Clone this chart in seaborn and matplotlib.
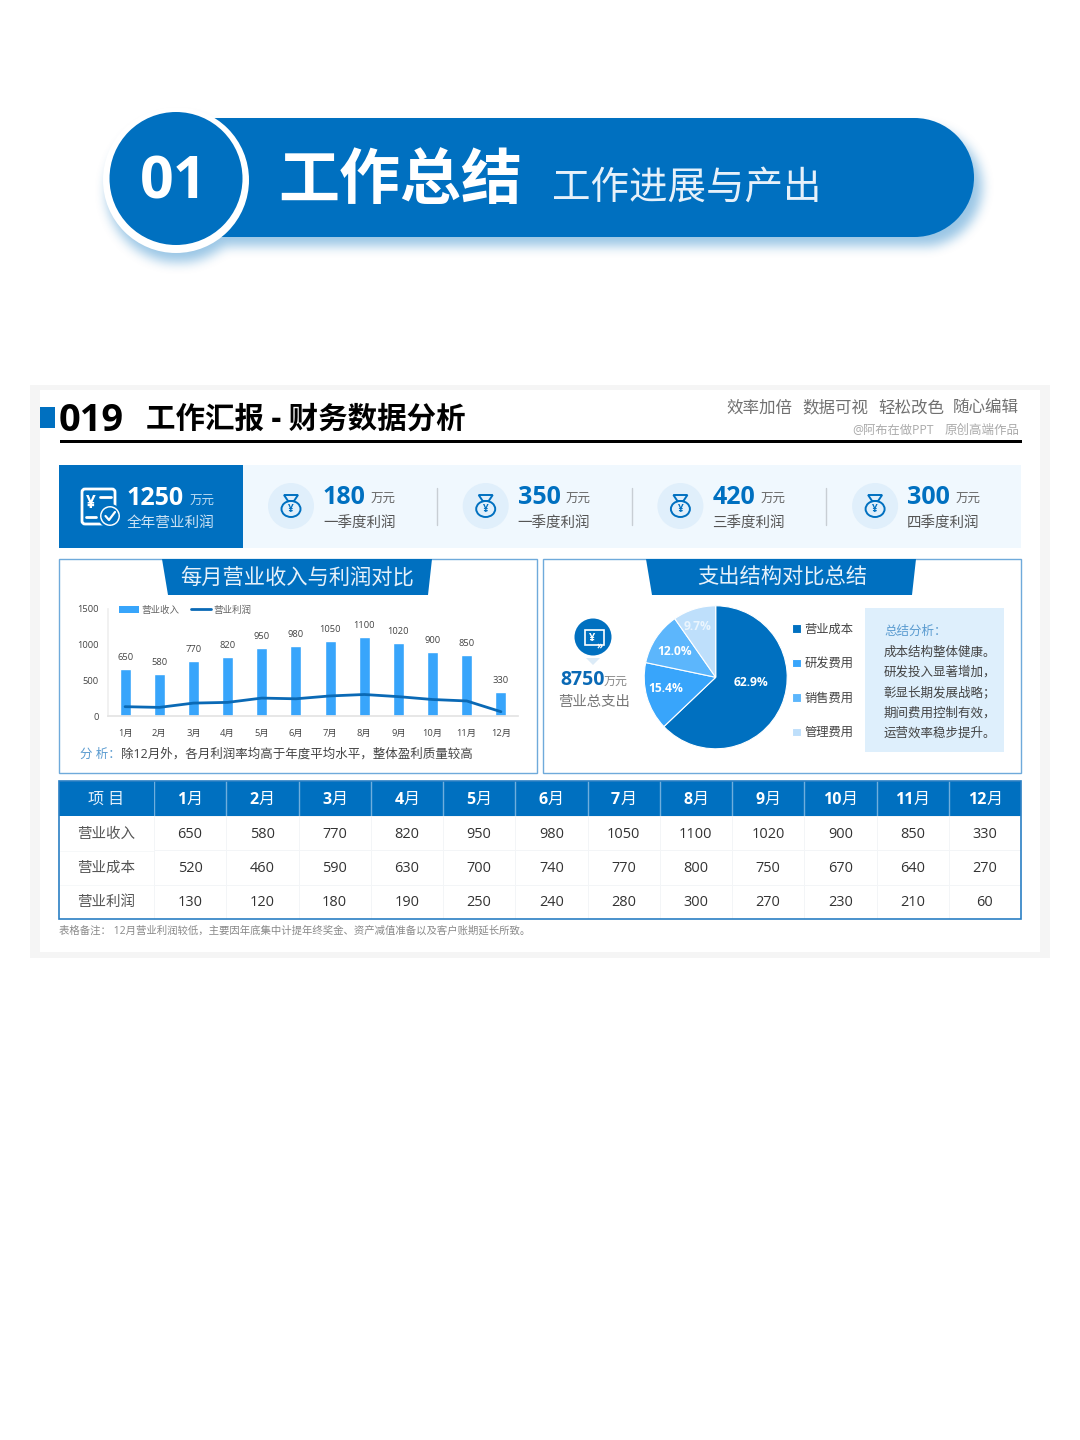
import numpy as np
import pandas as pd
import seaborn as sns
import matplotlib.pyplot as plt
from matplotlib.colors import ListedColormap
from matplotlib.lines import Line2D
from matplotlib.patches import Circle, Ellipse, FancyBboxPatch, Polygon, Rectangle

months = ['1月', '2月', '3月', '4月', '5月', '6月', '7月', '8月', '9月', '10月', '11月', '12月']
revenue = [650, 580, 770, 820, 950, 980, 1050, 1100, 1020, 900, 850, 330]
cost = [520, 460, 590, 630, 700, 740, 770, 800, 750, 670, 640, 270]
profit = [130, 120, 180, 190, 250, 240, 280, 300, 270, 230, 210, 60]
row_names = ['营业收入', '营业成本', '营业利润']

pie_names = ['营业成本', '研发费用', '销售费用', '管理费用']
pie_shares = [62.9, 15.4, 12.0, 9.7]

kpi_values = ['180', '350', '420', '300']
kpi_names = ['一季度利润', '一季度利润', '三季度利润', '四季度利润']
tags = ['效率加倍', '数据可视', '轻松改色', '随心编辑']
summary_lines = ['成本结构整体健康。', '研发投入显著增加，', '彰显长期发展战略；', '期间费用控制有效，', '运营效率稳步提升。']

BLUE = '#0070C0'
BAR = '#38A5FB'
PALE = '#F0F8FE'
FRAME = '#6FAADB'
PX = 0.72

sns.set_theme(style='white')
plt.rcParams['font.family'] = ['Open Sans', 'Noto Sans CJK SC', 'DejaVu Sans']

fig = plt.figure(figsize=(10.8, 14.4), dpi=100, facecolor='white')
bg = fig.add_axes([0, 0, 1, 1])
bg.set_xlim(0, 1080)
bg.set_ylim(1440, 0)
bg.axis('off')


def inset(x0, y0, x1, y1):
    # pixel box of the reference -> figure axes
    return fig.add_axes([x0 / 1080, 1 - y1 / 1440, (x1 - x0) / 1080, (y1 - y0) / 1440])


def T(x, y, s, size, color='#444444', weight='normal', ha='left', va='center', z=5):
    # va center sits a little high for these fonts
    bg.text(x, y + size * 0.1, s, fontsize=size * PX, color=color, fontweight=weight, ha=ha, va=va, zorder=z)


def box_blur(a, n):
    k = np.ones(n) / n
    for i in range(3):
        a = np.apply_along_axis(lambda v: np.convolve(v, k, mode='same'), 0, a)
        a = np.apply_along_axis(lambda v: np.convolve(v, k, mode='same'), 1, a)
    return a


# banner shadow
yy, xx = np.mgrid[0:320, 0:1080]
mask = ((xx > 215) & (xx < 922) & (yy > 127) & (yy < 246)).astype(float)
mask[(xx - 922) ** 2 + (yy - 186.5) ** 2 < 59.5 ** 2] = 1
mask[(xx - 178) ** 2 + (yy - 190) ** 2 < 72 ** 2] = 1
mask = box_blur(mask, 11)
rgba = np.zeros((320, 1080, 4))
rgba[..., 0], rgba[..., 1], rgba[..., 2] = 0.0, 0.44, 0.75
rgba[..., 3] = mask * 0.4
bg.imshow(rgba, extent=(0, 1080, 320, 0), aspect='auto', zorder=1)
bg.set_xlim(0, 1080)
bg.set_ylim(1440, 0)

# banner
bg.add_patch(Rectangle((176, 118), 739, 119, fc=BLUE, ec='none', zorder=2))
bg.add_patch(Circle((914.5, 177.5), 59.5, fc=BLUE, ec='none', zorder=2))
bg.add_patch(Circle((176, 180), 73, fc='white', ec='none', zorder=3))
bg.add_patch(Circle((176, 178.5), 66.5, fc=BLUE, ec='none', zorder=3))
T(174, 177, '01', 59, 'white', 'bold', ha='center')
T(278, 177, '工作总结', 61, 'white', 'black')
T(552, 185, '工作进展与产出', 38.5, '#E6F1FA', 'light')

# card
bg.add_patch(Rectangle((30, 385), 1020, 573, fc='#F5F5F5', ec='none', zorder=1))
bg.add_patch(Rectangle((40, 390), 1000, 562, fc='white', ec='none', zorder=1))
bg.add_patch(Rectangle((40, 407), 15, 21, fc=BLUE, ec='none', zorder=2))
T(59, 417, '019', 38, 'black', 'bold')
T(146, 417, '工作汇报 - 财务数据分析', 29.5, 'black', 'black')
for x, s in zip([726, 802, 878, 953], tags):
    T(x, 407, s, 16.5, '#707070')
T(852, 429, '@阿布在做PPT', 12.3, '#AAAAAA')
T(945, 429, '原创高端作品', 12.5, '#AAAAAA')
bg.add_patch(Rectangle((60, 440), 962, 3, fc='black', ec='none', zorder=2))

# kpi band
bg.add_patch(Rectangle((59, 465), 962, 83, fc=PALE, ec='none', zorder=2))
bg.add_patch(Rectangle((59, 465), 184, 83, fc=BLUE, ec='none', zorder=2))
bg.add_patch(FancyBboxPatch((82, 489), 33, 35, boxstyle='round,pad=0,rounding_size=3', fc='none', ec='white', lw=2, zorder=3))
T(91, 501, '¥', 17, 'white', 'bold', ha='center')
bg.plot([100, 111], [497, 497], color='white', lw=2, zorder=3)
bg.plot([86, 96], [517, 517], color='white', lw=2, zorder=3)
bg.add_patch(Circle((110, 516), 11, fc='white', ec=BLUE, lw=1.5, zorder=3))
bg.add_patch(Circle((110, 516), 8.5, fc=BLUE, ec='none', zorder=3))
bg.plot([105.5, 109, 115], [516, 520, 512], color='white', lw=1.6, zorder=4)
T(127, 496, '1250', 25, 'white', 'bold')
T(190, 500, '万元', 12.5, '#BFDCF2')
T(127, 522, '全年营业利润', 14.6, '#CFE4F5')

for i, (v, s) in enumerate(zip(kpi_values, kpi_names)):
    cx = 291 + 194.7 * i
    bg.add_patch(Circle((cx, 506), 23, fc='#E0EFFB', ec='none', zorder=3))
    bg.add_patch(Ellipse((cx, 509), 19, 16, fc='none', ec=BLUE, lw=1.4, zorder=4))
    bg.add_patch(Polygon([(cx - 7, 495), (cx + 7, 495), (cx + 3, 501), (cx - 3, 501)], fc='none', ec=BLUE, lw=1.4, zorder=4))
    T(cx, 509, '¥', 10, BLUE, 'bold', ha='center', z=5)
    T(cx + 32, 495, v, 25, BLUE, 'bold')
    T(cx + 80, 498, '万元', 12.5, '#666666')
    T(cx + 32, 522, s, 14.5, '#555555')
    if i < 3:
        bg.plot([cx + 146, cx + 146], [488, 525], color='#C8CED4', lw=1, zorder=3)

# panels
for x0, x1 in [(59, 537), (543, 1021)]:
    bg.add_patch(Rectangle((x0, 559), x1 - x0, 214, fc='white', ec=FRAME, lw=1.0, zorder=2))
    bg.add_patch(Polygon([(x0 + 103, 559), (x0 + 104 + 269, 559), (x0 + 104 + 265, 595), (x0 + 109, 595)], fc=BLUE, ec='none', zorder=3))
T(297, 576, '每月营业收入与利润对比', 21.3, '#E6F1FA', 'light', ha='center')
T(782, 576, '支出结构对比总结', 21.3, '#E6F1FA', 'light', ha='center')

# bar + line chart
df = pd.DataFrame({'month': months, 'revenue': revenue, 'profit': profit})
ax = inset(108, 608.5, 518, 716)
ax.patch.set_alpha(0)
sns.barplot(data=df, x='month', y='revenue', color=BAR, saturation=1, width=0.32, ax=ax)
sns.lineplot(x=np.arange(len(profit)), y=profit, color='#0A69B5', lw=2, ax=ax)
ax.bar_label(ax.containers[0], fontsize=9.4 * PX, color='#444444', padding=5)
ax.set_xlim(-0.5, 11.5)
ax.set_ylim(0, 1500)
ax.set_yticks([0, 500, 1000, 1500])
ax.set_xlabel('')
ax.set_ylabel('')
ax.tick_params(axis='y', labelsize=9.4 * PX, labelcolor='#444444', length=0, pad=6.5)
ax.tick_params(axis='x', labelsize=9.4 * PX, labelcolor='#444444', length=0, pad=9)
sns.despine(ax=ax, top=True, right=True)
ax.spines['left'].set_color('#F0F0F0')
ax.spines['bottom'].set_color('#E4E4E4')
ax.legend(handles=[Rectangle((0, 0), 1, 1, fc=BAR, ec='none'), Line2D([0], [0], color='#0A69B5', lw=2)],
          labels=['营业收入', '营业利润'], loc='upper left', bbox_to_anchor=(0.027, 1.03), ncols=2, frameon=False,
          fontsize=9.5 * PX, labelcolor='#666666', handlelength=2.1, handleheight=0.7, handletextpad=0.25,
          columnspacing=1.2, borderpad=0, borderaxespad=0)
T(80, 753, '分 析：', 12.5, '#5A9BD0')
T(121, 753, '除12月外，各月利润率均高于年度平均水平，整体盈利质量较高', 12.5, '#444444')

# pie
pie_colors = [BLUE, '#38A5FB', '#5CB6FC', '#BEDFFB']
pie_label_xy = [(0.50, -0.07), (-0.70, -0.16), (-0.57, 0.36), (-0.25, 0.71)]
ax2 = inset(715.7 - 75, 677.3 - 75, 715.7 + 75, 677.3 + 75)
ax2.patch.set_alpha(0)
wedges, _, autotexts = ax2.pie(pie_shares, colors=pie_colors, startangle=90, counterclock=False, radius=1,
                               autopct='%.1f%%', wedgeprops=dict(edgecolor='white', linewidth=0.8),
                               textprops=dict(color='white', fontsize=12 * PX, fontweight='bold'))
for t, xy in zip(autotexts, pie_label_xy):
    t.set_position(xy)
ax2.set_xlim(-75 / 71.5, 75 / 71.5)
ax2.set_ylim(-75 / 71.5, 75 / 71.5)
autotexts[3].set_color('#EAF5FE')
ax2.legend(wedges, pie_names, loc='upper left', bbox_to_anchor=(1.01, 0.864), frameon=False, fontsize=12.3 * PX,
           labelcolor='#444444', handlelength=0.7, handleheight=0.7, handletextpad=0.3, labelspacing=1.75,
           borderpad=0, borderaxespad=0)

bg.add_patch(Polygon([(586, 658), (600, 658), (593, 665)], fc='#DCEBF7', ec='none', zorder=3))
bg.add_patch(Circle((593, 637), 18.5, fc=BLUE, ec='none', zorder=3))
bg.add_patch(Rectangle((585, 630), 19, 15, fc='none', ec='white', lw=1.2, zorder=4))
T(592, 637, '¥', 11, 'white', 'bold', ha='center')
T(600, 645, '»', 10, 'white', 'bold', ha='center')
T(560, 678, '8750', 19.5, '#0A69B5', 'bold')
T(604, 680, '万元', 12, '#888888')
T(558, 701, '营业总支出', 14.4, '#777777')

bg.add_patch(Rectangle((865, 608), 139, 144, fc='#DEEFFC', ec='none', zorder=3))
T(884, 630, '总结分析：', 12.5, '#5A9BD0')
for i, s in enumerate(summary_lines):
    T(884, 651 + i * 20.3, s, 12.5, '#444444')

# table
bg.add_patch(Rectangle((59, 781), 95, 35, fc=BLUE, ec='none', zorder=2))
bg.add_patch(Rectangle((59, 816), 95, 103, fc='white', ec='none', zorder=2))
T(106, 798, '项 目', 16, '#E4F0FA', ha='center')
head = inset(154, 781, 1021, 816)
sns.heatmap(np.zeros((1, 12)), cmap=ListedColormap([BLUE]), cbar=False, linewidths=0,
            xticklabels=False, yticklabels=False, ax=head)
for i, m in enumerate(months):
    off = (len(m[:-1]) * 9.2 - 16) / 2 / 72.25
    head.text(i + 0.5 + off, 0.53, m[:-1], color='white', fontsize=16 * PX, fontweight='bold', ha='right', va='center')
    head.text(i + 0.5 + off, 0.53, m[-1], color='white', fontsize=16 * PX, ha='left', va='center')
for i in range(13):
    head.axvline(i, color='#6FAEDD', lw=1.0)

body = inset(154, 816, 1021, 919)
table_values = pd.DataFrame([revenue, cost, profit], index=row_names, columns=months)
sns.heatmap(table_values, cmap=ListedColormap(['white']), cbar=False, annot=True, fmt='d',
            annot_kws=dict(color='#333333', fontsize=14.5 * PX), linewidths=0.5, linecolor='#F3F5F7',
            xticklabels=False, yticklabels=False, ax=body)
for t in body.texts:
    x, y = t.get_position()
    t.set_position((x, y + 0.03))
body.set_xlabel('')
body.set_ylabel('')
for y, s in zip([832.5, 867, 901], row_names):
    T(106, y, s, 14.5, '#555555', ha='center')
for y in [850.5, 885]:
    bg.plot([60, 154], [y, y], color='#F3F5F7', lw=0.5, zorder=3)
frame = Rectangle((59, 781), 962, 138, fc='none', ec='#2A7FC4', lw=1.2, transform=bg.transData, zorder=6)
fig.add_artist(frame)
T(59, 930, '表格备注： 12月营业利润较低，主要因年底集中计提年终奖金、资产减值准备以及客户账期延长所致。', 10.4, '#888888')

fig.savefig('out.png', dpi=100)
